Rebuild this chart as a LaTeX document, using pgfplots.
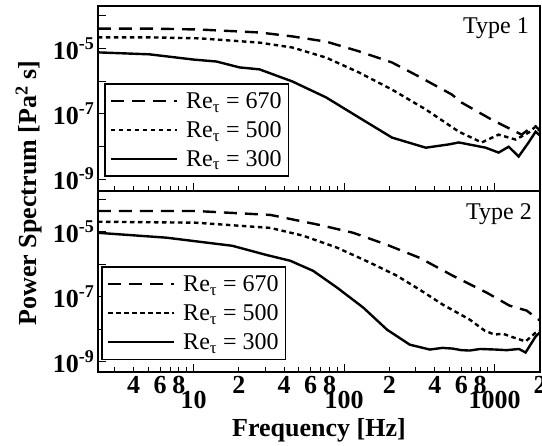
\documentclass[border=0pt]{standalone}
\usepackage{fontspec}
\setmainfont{Liberation Serif}
\usepackage{pgfplots}
\pgfplotsset{compat=1.18}
\tikzset{
  s670/.style={black, line width=2.4pt, dash pattern=on 13pt off 8pt},
  s500/.style={black, line width=2.4pt, dash pattern=on 4.5pt off 3.5pt},
  s300/.style={black, line width=2.4pt},
}
\newcommand{\ex}[1]{10\raisebox{10pt}{\fontsize{18}{18}\selectfont #1}}
\begin{document}
\begin{tikzpicture}
\begin{axis}[name=top, height=185pt, ymin=4.3e-10, ymax=2.0e-4,
    xmode=log, ymode=log,
    scale only axis, width=442pt,
    xmin=2.32, xmax=2000,
    axis line style={line width=1.3pt},
    xtick pos=left, ytick pos=left,
    tick align=inside,
    xtick={10,100,1000},
    minor xtick={3,4,5,6,7,8,9,20,30,40,50,60,70,80,90,200,300,400,500,600,700,800,900,2000},
    ytick={1e-9,1e-8,1e-7,1e-6,1e-5,1e-4},
    yticklabels={\ex{-9},,\ex{-7},,\ex{-5},},
    yminorticks=false,
    yticklabel style={font=\fontsize{26}{26}\selectfont\bfseries, inner sep=4pt},
    major tick length=8pt, minor tick length=5pt,
    every tick/.style={black, line width=1pt},
    legend image code/.code={\draw[#1] (0pt,0pt) -- (66pt,0pt);},
    legend style={anchor=south west, draw=black, line width=1.5pt,
      font=\fontsize{24}{24}\selectfont, inner xsep=5pt, inner ysep=6.5pt, row sep=7.5pt,
      column sep=6pt,
      at={(rel axis cs:0.0136,0.0757)}},
    legend cell align=left,
  xticklabels={}]
\addplot[s670] coordinates {(2.32,4.07e-5)(5.1,4.07e-5)(11,3.80e-5)(27.4,3.09e-5)(45.3,2.34e-5)(76,1.62e-5)(126,8.13e-6)(208,3.72e-6)(314,1.38e-6)(519,3.89e-7)(604,2.19e-7)(955,6.61e-8)(1510,2.29e-8)(1680,3.31e-8)(1870,4.07e-8)(1990,3.2e-8)};
\addlegendentry{Re\textsubscript{τ} = 670}
\addplot[s500] coordinates {(2.32,2.19e-5)(5.1,2.19e-5)(11,2.04e-5)(27.4,1.51e-5)(45.3,1.07e-5)(76,5.25e-6)(126,1.82e-6)(208,5.50e-7)(349,1.35e-7)(578,2.82e-8)(820,1.32e-8)(1062,2.29e-8)(1377,1.62e-8)(1680,2.63e-8)(1870,4.07e-8)(1990,3.0e-8)};
\addlegendentry{Re\textsubscript{τ} = 500}
\addplot[s300] coordinates {(2.32,7.59e-6)(5.1,6.61e-6)(10,4.57e-6)(14.2,3.98e-6)(20.2,2.63e-6)(27.4,2.29e-6)(45.3,9.77e-7)(76,3.16e-7)(126,7.59e-8)(208,1.86e-8)(349,9.12e-9)(496,1.15e-8)(578,1.32e-8)(871,9.12e-9)(1062,6.46e-9)(1239,9.77e-9)(1443,4.90e-9)(1680,1.32e-8)(1870,2.82e-8)(1990,2.2e-8)};
\addlegendentry{Re\textsubscript{τ} = 300}
\node[anchor=north east, inner sep=0pt, font=\fontsize{24}{24}\selectfont] at (rel axis cs:0.975,0.94) {Type 1};
\end{axis}
\begin{axis}[at={(top.south west)}, anchor=north west, height=181pt,
    ymin=4.9e-10, ymax=1.8e-4,
    xmode=log, ymode=log,
    scale only axis, width=442pt,
    xmin=2.32, xmax=2000,
    axis line style={line width=1.3pt},
    xtick pos=left, ytick pos=left,
    tick align=inside,
    xtick={10,100,1000},
    minor xtick={3,4,5,6,7,8,9,20,30,40,50,60,70,80,90,200,300,400,500,600,700,800,900,2000},
    ytick={1e-9,1e-8,1e-7,1e-6,1e-5,1e-4},
    yticklabels={\ex{-9},,\ex{-7},,\ex{-5},},
    yminorticks=false,
    yticklabel style={font=\fontsize{26}{26}\selectfont\bfseries, inner sep=4pt},
    major tick length=8pt, minor tick length=5pt,
    every tick/.style={black, line width=1pt},
    legend image code/.code={\draw[#1] (0pt,0pt) -- (66pt,0pt);},
    legend style={anchor=south west, draw=black, line width=1.5pt,
      font=\fontsize{24}{24}\selectfont, inner xsep=5pt, inner ysep=6.5pt, row sep=7.5pt,
      column sep=6pt,
      at={(rel axis cs:0.007,0.066)}},
    legend cell align=left,
  xticklabels={10,100,1000},
  xticklabel style={font=\fontsize{26}{26}\selectfont\bfseries, inner sep=1pt, yshift=-18pt},
  extra x ticks={4,6,8,20,40,60,80,200,400,600,800,2000},
  extra x tick labels={4,6,8,2,4,6,8,2,4,6,8,2},
  extra x tick style={major tick length=5pt, tick label style={font=\fontsize{17}{17}\selectfont\bfseries, yshift=15pt}},
  xlabel={Frequency [Hz]},
  xlabel style={at={(axis description cs:0.5,0)}, anchor=north, inner sep=0pt, yshift=-46pt, font=\fontsize{26}{26}\selectfont\bfseries}]
\addplot[s670] coordinates {(2.32,4.37e-5)(10.3,4.37e-5)(32.4,3.31e-5)(69,1.62e-5)(115,9.33e-6)(193,3.98e-6)(318,1.58e-6)(527,4.47e-7)(885,1.35e-7)(1256,5.37e-8)(1629,3.80e-8)(1990,1.9e-8)};
\addlegendentry{Re\textsubscript{τ} = 670}
\addplot[s500] coordinates {(2.32,2.04e-5)(10.3,1.91e-5)(32.4,1.32e-5)(53.5,7.59e-6)(90,3.24e-6)(149,1.12e-6)(224,4.47e-7)(318,1.66e-7)(453,5.75e-8)(683,2.00e-8)(860,9.1e-9)(1000,6.9e-9)(1130,7.4e-9)(1297,5.89e-9)(1604,4.27e-9)(1870,7.94e-9)(1990,9.0e-9)};
\addlegendentry{Re\textsubscript{τ} = 500}
\addplot[s300] coordinates {(2.32,9.33e-6)(6.6,6.61e-6)(18.1,3.72e-6)(30.4,1.95e-6)(43.9,1.29e-6)(62.3,6.31e-7)(90,1.91e-7)(134,4.68e-8)(193,9.77e-9)(273,3.39e-9)(371,2.40e-9)(450,2.7e-9)(527,2.57e-9)(600,2.3e-9)(683,2.24e-9)(800,2.5e-9)(1016,2.40e-9)(1200,2.3e-9)(1450,2.5e-9)(1604,1.95e-9)(1870,6.03e-9)(1990,8.0e-9)};
\addlegendentry{Re\textsubscript{τ} = 300}
\node[anchor=north east, inner sep=0pt, font=\fontsize{24}{24}\selectfont] at (rel axis cs:0.982,0.934) {Type 2};
\end{axis}
\node[rotate=90, font=\fontsize{26}{26}\selectfont\bfseries, inner sep=0pt] at ([xshift=-69pt,yshift=-2pt]top.south west) {Power Spectrum [Pa\textsuperscript{2} s]};
\pgfresetboundingbox
\path ([xshift=-98pt,yshift=6pt]top.north west) rectangle ([xshift=444pt,yshift=-440pt]top.north west);
\end{tikzpicture}
\end{document}
